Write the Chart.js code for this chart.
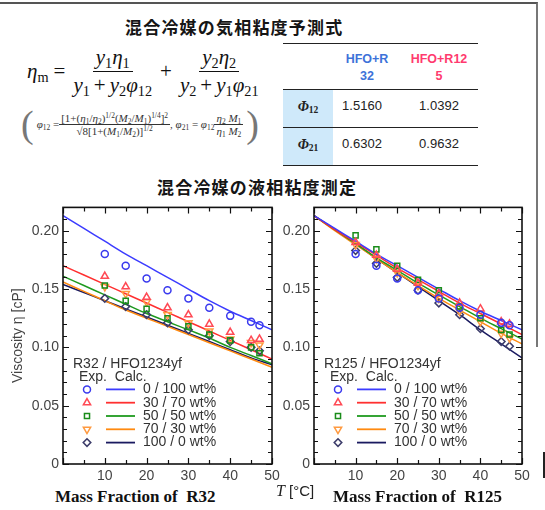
<!DOCTYPE html>
<html>
<head>
<meta charset="utf-8">
<script src="https://cdn.jsdelivr.net/npm/chart.js@4.4.0/dist/chart.umd.min.js"></script>
<style>
body{margin:0;width:545px;height:510px;background:#fff;position:relative;overflow:hidden;font-family:"Liberation Sans",Arial,sans-serif;color:#222;}
.abs{position:absolute;}
.jp{font-family:"Noto Sans CJK JP";font-weight:bold;font-size:17px;line-height:20px;letter-spacing:1.2px;color:#151515;white-space:nowrap;}
#frame{left:-4px;top:2px;width:540px;height:343px;border-top:2px solid #555;border-right:2px solid #777;}
#eq{left:27px;top:45px;display:flex;align-items:center;font-family:"Liberation Serif",serif;font-size:21px;font-style:italic;color:#111;white-space:nowrap;}
.frac{display:inline-flex;flex-direction:column;align-items:center;}
.num{padding:0 3px 1px;border-bottom:1.3px solid #111;}
.den{padding:1px 3px 0;}
.pl{font-style:normal;margin:0 4px;}
sub{font-size:0.68em;font-style:normal;vertical-align:-0.25em;line-height:0;}
sup{font-size:0.68em;font-style:normal;vertical-align:0.5em;line-height:0;}
.op{font-style:normal;margin:0 5px;}
#eq2{left:18px;top:104px;display:flex;align-items:center;font-family:"Liberation Serif",serif;font-size:11px;color:#333;white-space:nowrap;}
#eq2 .num{border-bottom:1px solid #333;padding:0 2px;}
#eq2 .den{padding:0 2px;}
.par{font-size:38px;color:#777;font-weight:100;line-height:40px;margin:0 3px;}
.rule{left:283px;width:195px;height:0;border-top:1.6px solid #222;}
.hd{font-size:12.5px;font-weight:bold;line-height:17px;text-align:center;width:70px;}
.val{font-size:13px;line-height:16px;text-align:center;width:70px;color:#222;}
.phi{font-family:"Liberation Serif",serif;font-style:italic;font-weight:bold;font-size:14px;line-height:16px;width:50px;text-align:center;color:#222;}
.cap{font-family:"Liberation Serif",serif;font-weight:bold;font-size:17px;line-height:20px;white-space:pre;color:#111;}
canvas{position:absolute;}
</style>
</head>
<body>
<div id="frame" class="abs"></div>
<div class="abs" style="left:543px;top:452px;width:2px;height:26px;background:#222;"></div>

<div class="abs jp" style="left:125px;top:17px;">混合冷媒の気相粘度予測式</div>

<div id="eq" class="abs">
  <span>η<sub>m</sub></span><span class="op">=</span>
  <span class="frac"><span class="num">y<sub>1</sub>η<sub>1</sub></span><span class="den">y<sub>1</sub><span class="pl">+</span>y<sub>2</sub>φ<sub>12</sub></span></span>
  <span class="op">+</span>
  <span class="frac"><span class="num">y<sub>2</sub>η<sub>2</sub></span><span class="den">y<sub>2</sub><span class="pl">+</span>y<sub>1</sub>φ<sub>21</sub></span></span>
</div>

<div id="eq2" class="abs">
  <span class="par">(</span>
  <span><i>φ</i><sub>12</sub> = </span>
  <span class="frac"><span class="num">[1+(<i>η</i><sub>1</sub>/<i>η</i><sub>2</sub>)<sup>1/2</sup>(<i>M</i><sub>2</sub>/<i>M</i><sub>1</sub>)<sup>1/4</sup>]<sup>2</sup></span><span class="den">√8[1+(<i>M</i><sub>1</sub>/<i>M</i><sub>2</sub>)]<sup>1/2</sup></span></span>
  <span>, <i>φ</i><sub>21</sub> = <i>φ</i><sub>12</sub></span>
  <span class="frac"><span class="num"><i>η</i><sub>2</sub> <i>M</i><sub>1</sub></span><span class="den"><i>η</i><sub>1</sub> <i>M</i><sub>2</sub></span></span>
  <span class="par">)</span>
</div>

<div class="abs" style="left:283px;top:90px;width:50px;height:75px;background:#cfe9fa;"></div>
<div class="abs rule" style="top:43px;"></div>
<div class="abs rule" style="top:89px;"></div>
<div class="abs rule" style="top:127px;"></div>
<div class="abs rule" style="top:165px;"></div>
<div class="abs hd" style="left:332px;top:51px;color:#3d72d9;">HFO+R<br>32</div>
<div class="abs hd" style="left:404px;top:51px;color:#ff3a6e;">HFO+R12<br>5</div>
<div class="abs phi" style="left:283px;top:99px;">Φ<sub>12</sub></div>
<div class="abs phi" style="left:283px;top:137px;">Φ<sub>21</sub></div>
<div class="abs val" style="left:327px;top:98px;">1.5160</div>
<div class="abs val" style="left:404px;top:98px;">1.0392</div>
<div class="abs val" style="left:327px;top:136px;">0.6302</div>
<div class="abs val" style="left:404px;top:136px;">0.9632</div>

<div class="abs jp" style="left:157px;top:177px;">混合冷媒の液相粘度測定</div>

<canvas id="left" width="285" height="290" style="left:0;top:195px;"></canvas>
<canvas id="right" width="257" height="290" style="left:278px;top:195px;"></canvas>

<div class="abs cap" style="left:55px;top:487px;">Mass Fraction of  R32</div>
<div class="abs cap" style="left:333px;top:487px;">Mass Fraction of  R125</div>
<div class="abs" style="left:276px;top:482px;font-size:15px;line-height:18px;color:#222;white-space:nowrap;"><i style="font-family:'Liberation Serif',serif;font-size:16px;">T</i> [°C]</div>

<script>
// temperatures [°C]
const expT = [10, 15, 20, 25, 30, 35, 40, 45, 47];
const calcT = [0, 5, 10, 15, 20, 25, 30, 35, 40, 45, 50];
const mixLabels = ["0 / 100 wt%", "30 / 70 wt%", "50 / 50 wt%", "70 / 30 wt%", "100 / 0 wt%"];

// R32 / HFO1234yf, measured viscosity [cP]
const r32Exp0 = [0.180, 0.170, 0.159, 0.149, 0.142, 0.134, 0.127, 0.122, 0.119];
const r32Exp30 = [0.161, 0.152, 0.143, 0.134, 0.128, 0.120, 0.113, 0.106, 0.107];
const r32Exp50 = [0.153, 0.140, 0.133, 0.125, 0.118, 0.111, 0.106, 0.100, 0.095];
const r32Exp70 = [0.152, 0.146, 0.139, 0.128, 0.121, 0.114, 0.107, 0.104, 0.102];
const r32Exp100 = [0.142, 0.135, 0.128, 0.121, 0.115, 0.110, 0.105, 0.100, 0.097];

// R32 / HFO1234yf, calculated
const r32Calc0 = [0.213, 0.202, 0.191, 0.180, 0.170, 0.160, 0.150, 0.140, 0.131, 0.123, 0.115];
const r32Calc30 = [0.170, 0.162, 0.154, 0.146, 0.138, 0.130, 0.122, 0.114, 0.106, 0.098, 0.090];
const r32Calc50 = [0.161, 0.153, 0.145, 0.137, 0.129, 0.122, 0.115, 0.108, 0.100, 0.093, 0.086];
const r32Calc70 = [0.156, 0.148, 0.140, 0.132, 0.125, 0.118, 0.111, 0.104, 0.097, 0.090, 0.083];
const r32Calc100 = [0.154, 0.147, 0.140, 0.133, 0.126, 0.119, 0.112, 0.105, 0.098, 0.091, 0.085];

// R125 / HFO1234yf, measured
const r125Exp0 = [0.180, 0.170, 0.159, 0.149, 0.142, 0.134, 0.128, 0.121, 0.119];
const r125Exp30 = [0.190, 0.179, 0.167, 0.155, 0.146, 0.138, 0.133, 0.122, 0.120];
const r125Exp50 = [0.196, 0.184, 0.170, 0.158, 0.149, 0.135, 0.125, 0.115, 0.111];
const r125Exp70 = [0.188, 0.176, 0.164, 0.153, 0.142, 0.131, 0.122, 0.112, 0.108];
const r125Exp100 = [0.183, 0.172, 0.160, 0.149, 0.138, 0.128, 0.116, 0.105, 0.101];

// R125 / HFO1234yf, calculated
const r125Calc0 = [0.213, 0.202, 0.191, 0.180, 0.170, 0.160, 0.150, 0.140, 0.131, 0.123, 0.115];
const r125Calc30 = [0.213, 0.201, 0.190, 0.179, 0.168, 0.158, 0.148, 0.138, 0.129, 0.120, 0.111];
const r125Calc50 = [0.213, 0.201, 0.189, 0.177, 0.166, 0.155, 0.145, 0.135, 0.125, 0.116, 0.107];
const r125Calc70 = [0.213, 0.200, 0.188, 0.176, 0.164, 0.153, 0.142, 0.132, 0.122, 0.112, 0.103];
const r125Calc100 = [0.213, 0.201, 0.189, 0.176, 0.164, 0.152, 0.140, 0.128, 0.115, 0.103, 0.091];

const lineColors = ["#3c3cff", "#ff3030", "#1f9a1f", "#ff8a10", "#1a1a60"];
const pointColors = ["#3a3aee", "#ff4a55", "#1a8c1a", "#ff9a40", "#3c3c6a"];
const markerStyles = ["circle", "triangle", "rect", "triangle", "rectRot"];
const markerRot = [0, 0, 0, 180, 0];
const markerSize = [3.5, 4.2, 3.6, 4.2, 3.8];

const font = "Liberation Sans";

// ticks pointing inward on all four sides + frame
const innerTicks = {
    id: "innerTicks",
    afterDatasetsDraw(chart) {
        const { ctx, chartArea: a, scales: { x, y } } = chart;
        ctx.save();
        ctx.strokeStyle = "#111";
        ctx.lineWidth = 1.2;
        ctx.beginPath();
        x.ticks.forEach(t => {
            const px = Math.round(x.getPixelForValue(t.value)) + 0.5;
            const len = t.value % 10 === 0 ? 6 : 4;
            ctx.moveTo(px, a.bottom); ctx.lineTo(px, a.bottom - len);
            ctx.moveTo(px, a.top); ctx.lineTo(px, a.top + len);
        });
        y.ticks.forEach(t => {
            const py = Math.round(y.getPixelForValue(t.value)) + 0.5;
            const len = Math.round(t.value * 100) % 5 === 0 ? 6 : 4;
            ctx.moveTo(a.left, py); ctx.lineTo(a.left + len, py);
            ctx.moveTo(a.right, py); ctx.lineTo(a.right - len, py);
        });
        ctx.stroke();
        ctx.lineWidth = 1.6;
        ctx.strokeRect(a.left, a.top, a.width, a.height);
        ctx.restore();
    }
};

// in-plot legend: "Exp." marker + "Calc." line
const legendBox = {
    id: "legendBox",
    afterDatasetsDraw(chart, args, opts) {
        const { ctx, chartArea: a } = chart;
        const ds = chart.data.datasets;
        ctx.save();
        ctx.fillStyle = "#333";
        ctx.font = "14px '" + font + "'";
        ctx.textBaseline = "middle";
        const top = a.top + 157;
        ctx.fillText(opts.title, a.left + 10, top);
        ctx.fillText("Exp.  Calc.", a.left + 16, top + 13);
        mixLabels.forEach((lab, i) => {
            const yy = top + 25 + i * 13.3;
            const p = ds[i];
            ctx.strokeStyle = p.borderColor;
            ctx.fillStyle = "rgba(0,0,0,0)";
            ctx.lineWidth = 1.5;
            Chart.helpers.drawPoint(ctx, {
                pointStyle: p.pointStyle,
                rotation: p.pointRotation,
                radius: p.pointRadius,
                borderWidth: 1.5
            }, a.left + 24, yy);
            ctx.strokeStyle = ds[i + 5].borderColor;
            ctx.lineWidth = 1.8;
            ctx.beginPath();
            ctx.moveTo(a.left + 43, yy);
            ctx.lineTo(a.left + 72, yy);
            ctx.stroke();
            ctx.fillStyle = "#333";
            ctx.fillText(lab, a.left + 80, yy);
        });
        ctx.restore();
    }
};

function buildChart(id, title, expSets, calcSets, yWidth, withTitle) {
    const datasets = [];
    expSets.forEach((vals, i) => {
        datasets.push({
            label: mixLabels[i],
            data: expT.map((t, j) => ({ x: t, y: vals[j] })),
            showLine: false,
            pointStyle: markerStyles[i],
            pointRotation: markerRot[i],
            pointRadius: markerSize[i],
            borderColor: pointColors[i],
            backgroundColor: "rgba(0,0,0,0)",
            borderWidth: 1.5,
            order: 0
        });
    });
    calcSets.forEach((vals, i) => {
        datasets.push({
            type: "line",
            label: mixLabels[i],
            data: calcT.map((t, j) => ({ x: t, y: vals[j] })),
            showLine: true,
            borderColor: lineColors[i],
            borderWidth: 1.5,
            pointRadius: 0,
            cubicInterpolationMode: "monotone",
            fill: false,
            order: 1
        });
    });

    return new Chart(document.getElementById(id), {
        type: "scatter",
        data: { datasets: datasets },
        plugins: [innerTicks, legendBox],
        options: {
            responsive: false,
            animation: false,
            devicePixelRatio: 1,
            layout: { padding: { top: 8, right: 13, left: 0, bottom: 0 } },
            scales: {
                x: {
                    type: "linear",
                    min: 0,
                    max: 50,
                    afterFit(s) { s.height = 21; },
                    grid: { display: false, drawTicks: false },
                    border: { display: false },
                    ticks: {
                        stepSize: 5,
                        autoSkip: false,
                        maxRotation: 0,
                        padding: 4,
                        color: "#444",
                        font: { family: font, size: 14 },
                        callback: v => (v > 0 && v % 10 === 0) ? v : ""
                    }
                },
                y: {
                    min: 0,
                    max: 0.22,
                    afterFit(s) { s.width = yWidth; },
                    grid: { display: false, drawTicks: false },
                    border: { display: false },
                    ticks: {
                        stepSize: 0.01,
                        autoSkip: false,
                        padding: 4,
                        color: "#444",
                        font: { family: font, size: 14 },
                        callback: v => {
                            const k = Math.round(v * 100);
                            if (k % 5 !== 0) return "";
                            return k === 0 ? "0" : (k / 100).toFixed(2);
                        }
                    },
                    title: {
                        display: withTitle,
                        text: "Viscosity η [cP]",
                        color: "#444",
                        font: { family: font, size: 14 },
                        padding: { top: 10, bottom: 0 }
                    }
                }
            },
            plugins: {
                legend: { display: false },
                tooltip: { enabled: false },
                legendBox: { title: title }
            }
        }
    });
}

buildChart("left", "R32 / HFO1234yf",
    [r32Exp0, r32Exp30, r32Exp50, r32Exp70, r32Exp100],
    [r32Calc0, r32Calc30, r32Calc50, r32Calc70, r32Calc100], 63, true);

buildChart("right", "R125 / HFO1234yf",
    [r125Exp0, r125Exp30, r125Exp50, r125Exp70, r125Exp100],
    [r125Calc0, r125Calc30, r125Calc50, r125Calc70, r125Calc100], 36, false);
</script>
</body>
</html>
